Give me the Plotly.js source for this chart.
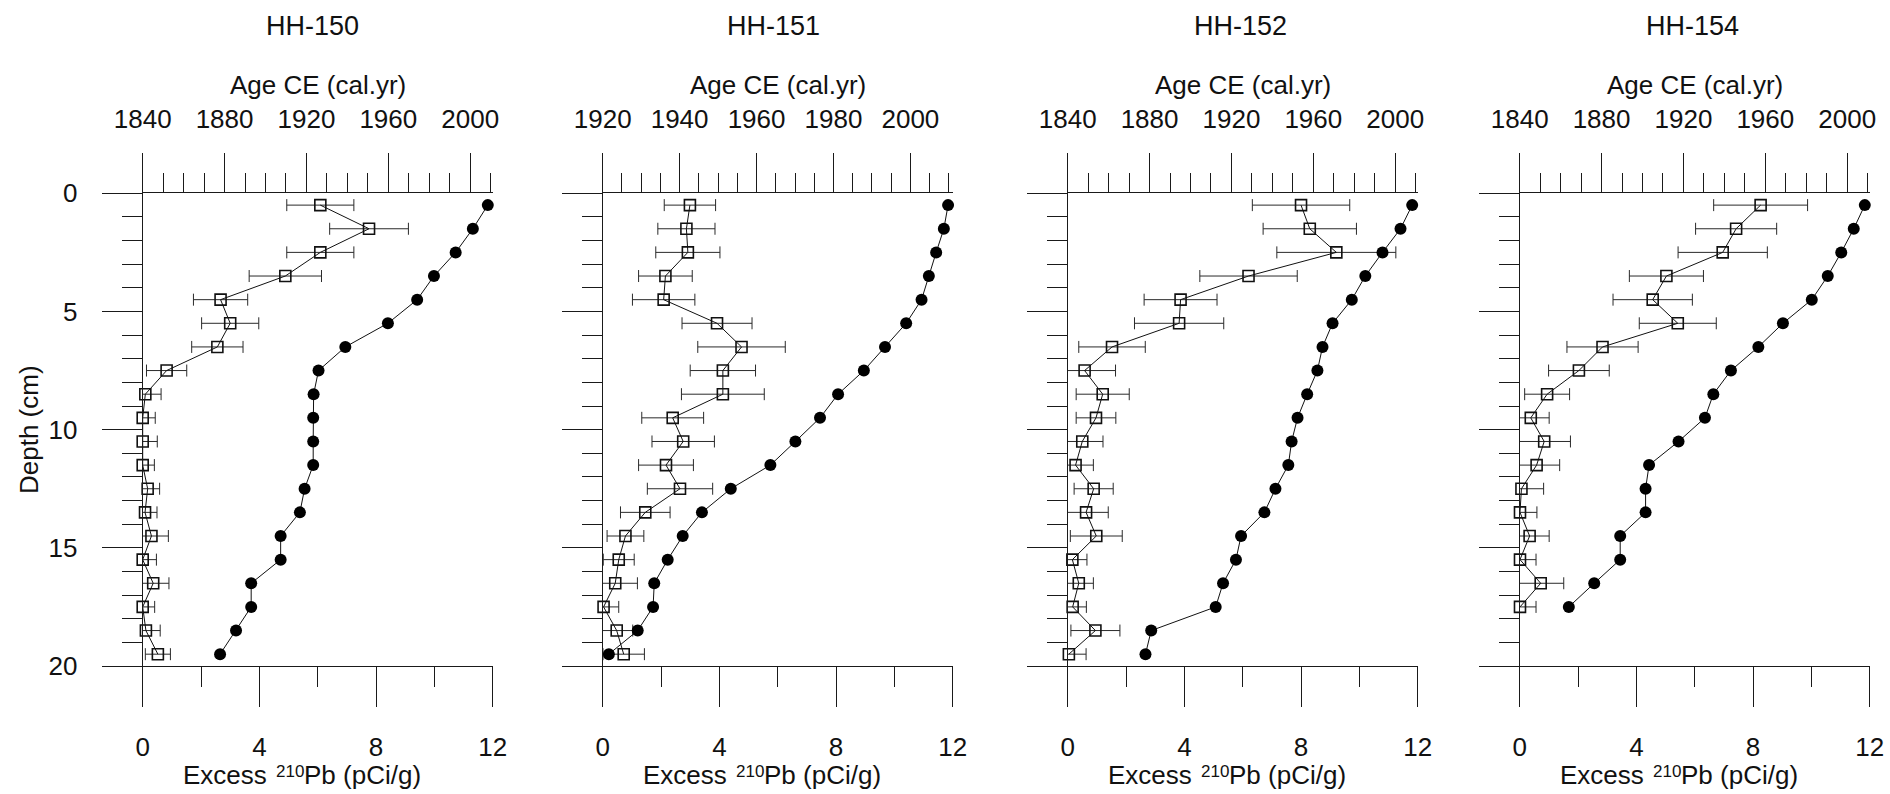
<!DOCTYPE html>
<html>
<head>
<meta charset="utf-8">
<script src="https://cdn.plot.ly/plotly-3.0.1.min.js"></script>
<style>
html,body{margin:0;padding:0;background:#fff;}
#chart{width:1890px;height:794px;}
</style>
</head>
<body>
<div id="chart"></div>
<script>
// ---------------- data ----------------
const depth = [0.5,1.5,2.5,3.5,4.5,5.5,6.5,7.5,8.5,9.5,10.5,11.5,12.5,13.5,14.5,15.5,16.5,17.5,18.5,19.5];
const coreNames = ['HH-150','HH-151','HH-152','HH-154'];

const excess150 = [6.09,7.76,6.09,4.89,2.67,3.00,2.56,0.82,0.09,0.00,0.00,0.00,0.17,0.08,0.30,0.00,0.36,0.00,0.11,0.52];
const err150    = [1.15,1.35,1.15,1.24,0.93,0.98,0.88,0.69,0.54,0.43,0.50,0.40,0.41,0.41,0.58,0.47,0.54,0.41,0.49,0.43];
const age150    = [2008.6,2001.3,1992.9,1982.3,1974.1,1959.8,1939.0,1925.9,1923.5,1923.3,1923.3,1923.3,1919.1,1916.8,1907.4,1907.4,1893.0,1893.0,1885.6,1877.8];

const excess151 = [2.99,2.87,2.92,2.15,2.09,3.92,4.76,4.12,4.12,2.40,2.76,2.17,2.65,1.46,0.78,0.55,0.43,0.03,0.48,0.72];
const err151    = [0.88,0.98,1.10,0.92,1.07,1.20,1.50,1.12,1.42,1.06,1.07,0.94,1.12,0.85,0.63,0.53,0.76,0.52,0.55,0.71];
const age151    = [2009.8,2008.7,2006.7,2004.8,2002.9,1998.9,1993.4,1987.9,1981.2,1976.5,1970.1,1963.6,1953.3,1945.8,1940.8,1936.9,1933.4,1933.1,1929.1,1921.6];

const excess152 = [8.00,8.30,9.21,6.20,3.87,3.82,1.52,0.58,1.20,0.97,0.50,0.27,0.89,0.63,0.98,0.16,0.38,0.17,0.95,0.04];
const err152    = [1.67,1.60,2.04,1.67,1.25,1.53,1.14,1.06,0.91,0.68,0.71,0.61,0.67,0.76,0.89,0.50,0.50,0.47,0.84,0.59];
const age152    = [2008.3,2002.6,1993.8,1985.4,1978.8,1969.4,1964.5,1962.0,1957.0,1952.3,1949.4,1947.8,1941.5,1936.1,1924.7,1922.2,1915.9,1912.3,1880.8,1878.0];

const excess154 = [8.26,7.42,6.96,5.03,4.56,5.42,2.84,2.03,0.94,0.38,0.84,0.58,0.06,0.01,0.34,0.01,0.72,0.01];
const err154    = [1.61,1.39,1.53,1.27,1.36,1.32,1.22,1.04,0.77,0.63,0.90,0.79,0.76,0.58,0.67,0.55,0.79,0.55];
const age154    = [2008.6,2003.2,1997.1,1990.5,1982.7,1968.6,1956.6,1943.2,1934.6,1930.5,1917.6,1903.2,1901.5,1901.5,1889.1,1889.1,1876.4,1864.0];

const excessTicks = [0,4,8,12];
const excessMinorTicks = [2,6,10];
const depthTicks = [0,5,10,15,20];
const ageStart = [1840,1920,1840,1840];
const ageMajorStep = [40,20,40,40];
const ageMinorStep = [10,5,10,10];

const excessSeries = [excess150, excess151, excess152, excess154];
const errSeries = [err150, err151, err152, err154];
const ageSeries = [age150, age151, age152, age154];

// ---------------- layout geometry ----------------
const W = 1890, H = 794;
const FONT = 'Liberation Sans, Arial, Helvetica, sans-serif';
const FS = 26;
const INK = '#1a1a1a';
const TXT = '#111';
const plotLeft = [142.7, 602.7, 1067.7, 1519.7];
const plotW = 350;
const plotTop = 193.3, plotBottom = 666;
const px = v => v / W;
const py = v => 1 - v / H;

const layout = {
  width: W, height: H,
  margin: {l:0, r:0, t:0, b:0, pad:0},
  paper_bgcolor: '#fff', plot_bgcolor: 'rgba(0,0,0,0)',
  showlegend: false,
  hovermode: false,
  font: {family: FONT, size: FS, color: TXT},
  annotations: []
};
const traces = [];

function axisBase(extra){
  return Object.assign({
    showgrid:false, zeroline:false, showline:true, linecolor:INK, linewidth:1,
    ticks:'outside', tickcolor:INK, tickwidth:1,
    tickfont:{family:FONT, size:FS, color:TXT},
    fixedrange:true
  }, extra);
}
function note(x, y, text, size, anchor, extra){
  return Object.assign({
    xref:'paper', yref:'paper', x: px(x), y: py(y), xanchor: anchor || 'center', yanchor:'middle',
    text: text, showarrow:false, font:{family:FONT, size:size, color:TXT}
  }, extra || {});
}

for (let i = 0; i < 4; i++) {
  const xb = 'x' + (2*i+1 === 1 ? '' : (2*i+1));
  const xt = 'x' + (2*i+2);
  const yy = 'y' + (i === 0 ? '' : (i+1));
  const xbKey = 'xaxis' + (2*i+1 === 1 ? '' : (2*i+1));
  const xtKey = 'xaxis' + (2*i+2);
  const yKey = 'yaxis' + (i === 0 ? '' : (i+1));
  const dom = [px(plotLeft[i]), px(plotLeft[i] + plotW)];
  const ydom = [py(plotBottom), py(plotTop)];

  layout[xbKey] = axisBase({
    domain: dom, anchor: yy, side: 'bottom', range: [0, 12],
    tickmode: 'array', tickvals: excessTicks, ticklen: 40,
    ticklabelstandoff: 18,
    minor: {tickmode:'array', tickvals: excessMinorTicks, ticks:'outside', ticklen: 20, tickcolor: INK, tickwidth: 1, showgrid:false}
  });
  layout[xtKey] = axisBase({
    domain: dom, anchor: yy, overlaying: xb, side: 'top',
    range: [ageStart[i], 2011],
    tickmode: 'linear', tick0: ageStart[i], dtick: ageMajorStep[i], ticklen: 39,
    ticklabelstandoff: 15,
    minor: {tick0: ageStart[i], dtick: ageMinorStep[i], ticks:'outside', ticklen: 19, tickcolor: INK, tickwidth: 1, showgrid:false}
  });
  layout[yKey] = axisBase({
    domain: ydom, anchor: xb, side: 'left', range: [20, 0],
    tickmode: 'array', tickvals: depthTicks, ticklen: 40,
    showticklabels: i === 0,
    ticklabelstandoff: 19,
    minor: {tick0: 0, dtick: 1, ticks:'outside', ticklen: 20, tickcolor: INK, tickwidth: 1, showgrid:false}
  });

  const ex = excessSeries[i];
  traces.push({
    type: 'scatter', mode: 'lines+markers',
    x: ex, y: depth.slice(0, ex.length), xaxis: xb, yaxis: yy,
    line: {color: '#111', width: 1},
    marker: {symbol: 'square-open', size: 11, color: '#111', line: {width: 1.6, color: '#111'}},
    error_x: {type: 'data', array: errSeries[i], symmetric: true, color: '#2a2a2a', thickness: 1, width: 6},
    cliponaxis: false, hoverinfo: 'skip'
  });
  const ag = ageSeries[i];
  traces.push({
    type: 'scatter', mode: 'lines+markers',
    x: ag, y: depth.slice(0, ag.length), xaxis: xt, yaxis: yy,
    line: {color: '#111', width: 1},
    marker: {symbol: 'circle', size: 12, color: '#000', line: {width: 0}},
    cliponaxis: false, hoverinfo: 'skip'
  });

  // titles
  const L = plotLeft[i];
  const cx = L + plotW / 2;
  const titleX = [312.5, 773.8, 1240.7, 1692.7][i];
  layout.annotations.push(note(titleX, 26, coreNames[i], 27));
  layout.annotations.push(note(cx, 85, 'Age CE (cal.yr)', FS));
  // bottom axis title: "Excess 210Pb (pCi/g)" with a small raised 210
  layout.annotations.push(note(L + 126.5, 775, 'Excess', FS, 'right'));
  layout.annotations.push(note(L + 131, 771.5, '210', 17, 'left'));
  layout.annotations.push(note(L + 159.5, 775, 'Pb (pCi/g)', FS, 'left'));
}
layout.annotations.push(note(29, 430, 'Depth (cm)', FS, 'center', {textangle: -90}));

Plotly.newPlot('chart', traces, layout, {displayModeBar:false, staticPlot:true});
</script>
</body>
</html>
